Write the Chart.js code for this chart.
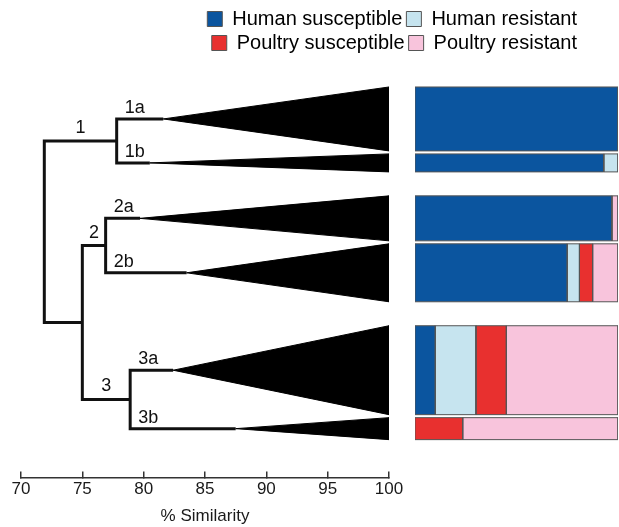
<!DOCTYPE html>
<html>
<head>
<meta charset="utf-8">
<script src="https://cdn.jsdelivr.net/npm/chart.js@4.4.0/dist/chart.umd.min.js"></script>
<style>
  body { margin: 0; background: #fff; }
  #wrap { position: relative; width: 619px; height: 527px; }
  #wrap canvas { position: absolute; left: 0; top: 0; }
</style>
</head>
<body>
<div id="wrap">
  <canvas id="tree" width="619" height="527"></canvas>
  <canvas id="bars" width="619" height="527"></canvas>
</div>
<script>
// sub-clusters, top to bottom
const subclusters = ['1a', '1b', '2a', '2b', '3a', '3b'];
const clusterOf = ['1', '1', '2', '2', '3', '3'];
// relative number of isolates (height of triangle / bar)
const isolates = [64, 18, 45, 58, 89, 22];
// % similarity where each collapsed sub-cluster starts (triangle apex)
const apexSimilarity = [81.6, 80.5, 79.7, 83.5, 82.4, 87.5];
// % similarity of the joins
const clusterSimilarity = { '1': 77.8, '2': 76.9, '3': 78.9 };
const join23Similarity = 75.0;
const rootSimilarity = 71.9;

// composition of each sub-cluster (% of isolates)
const series = ['Human susceptible', 'Human resistant', 'Poultry susceptible', 'Poultry resistant'];
const humanSusceptible   = [100, 93, 97, 75, 10, 0];
const humanResistant     = [0, 7, 0, 6, 20, 0];
const poultrySusceptible = [0, 0, 0, 6.5, 15, 23.5];
const poultryResistant   = [0, 0, 3, 12.5, 55, 76.5];
const seriesValues = [humanSusceptible, humanResistant, poultrySusceptible, poultryResistant];
const seriesColors = ['#0b559f', '#c6e4ef', '#e8302f', '#f8c4dc'];

const xMin = 70, xMax = 100, xStep = 5;

Chart.defaults.font.family = "'Liberation Sans', Arial, Helvetica, sans-serif";
Chart.defaults.color = '#1a1a1a';

// vertical stacking of the sub-clusters
const GAP_IN = 3, GAP_OUT = 24, TOP = 24, BOTTOM = 38;
const rows = [];
let cursor = TOP;
subclusters.forEach((s, i) => {
  if (i > 0) cursor += clusterOf[i] === clusterOf[i - 1] ? GAP_IN : GAP_OUT;
  rows.push({ top: cursor, bottom: cursor + isolates[i], mid: cursor + isolates[i] / 2 });
  cursor += isolates[i];
});
const yMax = cursor + BOTTOM;

// dendrogram branches
const branchSets = [];
const clusterY = {};
function elbow(sim, xa, ya, xb, yb) {
  branchSets.push({
    data: [{x: xa, y: ya}, {x: sim, y: ya}, {x: sim, y: yb}, {x: xb, y: yb}],
    borderColor: '#111', borderWidth: 3, borderJoinStyle: 'miter',
    pointRadius: 0, fill: false, tension: 0
  });
}
['1', '2', '3'].forEach(c => {
  const i = clusterOf.indexOf(c), j = i + 1;
  elbow(clusterSimilarity[c], apexSimilarity[i], rows[i].mid, apexSimilarity[j], rows[j].mid);
  clusterY[c] = (rows[i].mid + rows[j].mid) / 2;
});
elbow(join23Similarity, clusterSimilarity['2'], clusterY['2'], clusterSimilarity['3'], clusterY['3']);
const y23 = (clusterY['2'] + clusterY['3']) / 2;
elbow(rootSimilarity, clusterSimilarity['1'], clusterY['1'], join23Similarity, y23);

const clusterLabels = [
  { label: '1', from: rootSimilarity, to: clusterSimilarity['1'], y: clusterY['1'] },
  { label: '2', from: join23Similarity, to: clusterSimilarity['2'], y: clusterY['2'] },
  { label: '3', from: join23Similarity, to: clusterSimilarity['3'], y: clusterY['3'] }
];

const triangleSets = subclusters.map((s, i) => ({
  data: [
    {x: apexSimilarity[i], y: rows[i].mid},
    {x: xMax, y: rows[i].top},
    {x: xMax, y: rows[i].bottom},
    {x: apexSimilarity[i], y: rows[i].mid}
  ],
  backgroundColor: '#000', borderColor: '#000', borderWidth: 1,
  pointRadius: 0, fill: 'shape', tension: 0
}));

const branchLabels = {
  id: 'branchLabels',
  afterDatasetsDraw(chart) {
    const {ctx, scales: {x, y}} = chart;
    ctx.save();
    ctx.fillStyle = '#111';
    ctx.font = "18px 'Liberation Sans', Arial, sans-serif";
    ctx.textBaseline = 'alphabetic';
    ctx.textAlign = 'left';
    subclusters.forEach((s, i) => {
      ctx.fillText(s, x.getPixelForValue(clusterSimilarity[clusterOf[i]]) + 8, y.getPixelForValue(rows[i].mid) - 6);
    });
    ctx.textAlign = 'center';
    clusterLabels.forEach(n => {
      ctx.fillText(n.label, (x.getPixelForValue(n.from) + x.getPixelForValue(n.to)) / 2, y.getPixelForValue(n.y) - 8);
    });
    ctx.restore();
  }
};

const tree = new Chart(document.getElementById('tree'), {
  type: 'line',
  data: { datasets: [...triangleSets, ...branchSets] },
  options: {
    responsive: false,
    animation: false,
    events: [],
    layout: { padding: { left: 21, right: 38, top: 5, bottom: 0 } },
    scales: {
      x: {
        type: 'linear', min: xMin, max: xMax,
        ticks: { stepSize: xStep, padding: 9, color: '#1a1a1a', font: { size: 17, lineHeight: 1 } },
        grid: { drawOnChartArea: false, drawTicks: true, tickLength: -6, color: '#333', lineWidth: 1.5 },
        border: { display: true, color: '#333', width: 1.5 },
        title: { display: true, text: '% Similarity', color: '#1a1a1a', font: { size: 17 }, padding: 0 }
      },
      y: { type: 'linear', min: 0, max: yMax, reverse: true, display: false },
      gap: {
        type: 'linear', position: 'right', display: true,
        grid: { display: false }, ticks: { display: false }, border: { display: false },
        afterFit(scale) { scale.width = 192; }
      }
    },
    plugins: {
      tooltip: { enabled: false },
      legend: {
        position: 'top', align: 'end',
        onClick: null,
        labels: {
          boxWidth: 15, boxHeight: 15, padding: 4,
          color: '#1a1a1a', font: { size: 20 },
          generateLabels: () => series.map((s, i) => ({
            text: s, fillStyle: seriesColors[i], strokeStyle: '#555', lineWidth: 1, hidden: false
          }))
        }
      }
    }
  },
  plugins: [branchLabels]
});

// stacked composition bars, one rectangle per series and sub-cluster
const barSets = [];
subclusters.forEach((s, i) => {
  let start = 0;
  seriesValues.forEach((vals, k) => {
    const v = vals[i];
    if (v > 0) {
      const end = start + v;
      barSets.push({
        label: series[k] + ' ' + s,
        data: [
          {x: start, y: rows[i].top}, {x: end, y: rows[i].top},
          {x: end, y: rows[i].bottom}, {x: start, y: rows[i].bottom},
          {x: start, y: rows[i].top}
        ],
        backgroundColor: seriesColors[k], borderColor: '#555', borderWidth: 1,
        pointRadius: 0, fill: 'shape', tension: 0
      });
      start = end;
    }
  });
});

const area = tree.chartArea;
new Chart(document.getElementById('bars'), {
  type: 'line',
  data: { datasets: barSets },
  options: {
    responsive: false,
    animation: false,
    events: [],
    layout: { padding: { left: 415, right: 1, top: area.top, bottom: 527 - area.bottom } },
    scales: {
      x: { type: 'linear', min: 0, max: 100, display: false },
      y: { type: 'linear', min: 0, max: yMax, reverse: true, display: false }
    },
    plugins: { legend: { display: false }, tooltip: { enabled: false } }
  }
});
</script>
</body>
</html>
